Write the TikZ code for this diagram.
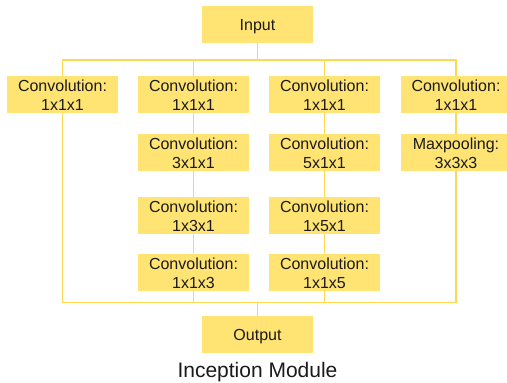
\documentclass[tikz,border=0pt]{standalone}
\usepackage{fontspec}
\setmainfont{Liberation Sans}
\usetikzlibrary{backgrounds}
\definecolor{boxfill}{HTML}{FFE474}
\definecolor{linecol}{HTML}{FFD850}
\definecolor{txt}{HTML}{1A1A1A}
\begin{document}
\begin{tikzpicture}[x=1pt,y=-1pt,
  lbl/.style={align=center, text=txt, inner sep=0pt, font=\fontsize{16}{19}\selectfont},
  blk/.style={fill=boxfill, draw=none, minimum width=111pt, minimum height=37pt, inner sep=0pt,
    label={[lbl,yshift=-1pt]center:{#1}}},
  blkone/.style={fill=boxfill, draw=none, minimum width=111pt, minimum height=37pt, inner sep=0pt,
    label={[lbl,yshift=-2.5pt]center:{\strut #1}}},
  conn/.style={draw=linecol, line width=1.4pt}]
\useasboundingbox (0,0) rectangle (507,383);
\clip (0,0) rectangle (507,383);
\node[blkone={Input}] (in) at (257.5,24.5) {};
\node[blkone={Output}] (out) at (257.5,334.5) {};
\node[blk={Convolution:\\1x1x1}] (a1) at (62.5,94.5) {};
\node[blk={Convolution:\\1x1x1}] (b1) at (193.5,94.5) {};
\node[blk={Convolution:\\3x1x1}] (b2) at (193.5,152.5) {};
\node[blk={Convolution:\\1x3x1}] (b3) at (193.5,215.5) {};
\node[blk={Convolution:\\1x1x3}] (b4) at (193.5,272) {};
\node[blk={Convolution:\\1x1x1}] (c1) at (324.5,94.5) {};
\node[blk={Convolution:\\5x1x1}] (c2) at (324.5,152.5) {};
\node[blk={Convolution:\\1x5x1}] (c3) at (324.5,215.5) {};
\node[blk={Convolution:\\1x1x5}] (c4) at (324.5,272) {};
\node[blk={Convolution:\\1x1x1}] (d1) at (456,94.5) {};
\node[blk={Maxpooling:\\3x3x3}] (d2) at (456,152.5) {};
\node[text=txt, font=\fontsize{21}{24}\selectfont] (title) at (257.5,372.5) {Inception Module};
\coordinate (bt) at (0,60);
\coordinate (bb) at (0,302.5);
\begin{scope}[on background layer]
\fill[white] (0,0) rectangle (507,383);
\draw[conn] (in.south) -- (in.south |- bt);
\foreach \n in {a1,b1,c1,d1} \draw[conn] (\n.north) |- (in.south |- bt);
\draw[conn] (out.north) -- (out.north |- bb);
\foreach \n in {a1,b4,c4,d2} \draw[conn] (\n.south) |- (out.north |- bb);
\draw[conn] (b1) -- (b2) (b2) -- (b3) (b3) -- (b4);
\draw[conn] (c1) -- (c2) (c2) -- (c3) (c3) -- (c4);
\draw[conn] (d1) -- (d2);
\end{scope}
\end{tikzpicture}
\end{document}
